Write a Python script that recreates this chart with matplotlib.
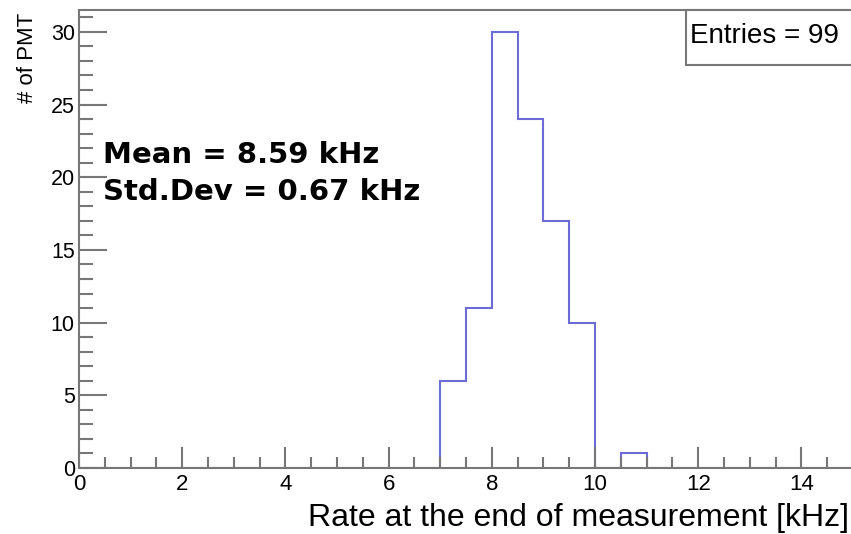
import matplotlib.pyplot as plt
import numpy as np
from matplotlib.patches import Rectangle
from matplotlib.ticker import MultipleLocator

plt.rcParams['font.family'] = ['Liberation Sans', 'DejaVu Sans']

bin_edges = np.arange(0, 15.5, 0.5)
counts = np.zeros(len(bin_edges) - 1)
# bins with entries (lower edge -> count)
filled_low = [7.0, 7.5, 8.0, 8.5, 9.0, 9.5, 10.5]
filled_cnt = [6, 11, 30, 24, 17, 10, 1]
for lo, c in zip(filled_low, filled_cnt):
	counts[int(round(lo / 0.5))] = c

fig = plt.figure(figsize=(8.51, 5.34), dpi=100)
ax = fig.add_axes([79/851, 1 - 468/534, 774/851, 458/534])

ax.stairs(counts, bin_edges, color='#6c6cd6', linewidth=1.5)

ax.set_xlim(0, 15)
ax.set_ylim(0, 31.5)
ax.xaxis.set_major_locator(MultipleLocator(2))
ax.xaxis.set_minor_locator(MultipleLocator(0.5))
ax.yaxis.set_major_locator(MultipleLocator(5))
ax.yaxis.set_minor_locator(MultipleLocator(1))

gray = '#777777'
for s in ax.spines.values():
	s.set_color(gray)
	s.set_linewidth(1.5)
ax.tick_params(axis='both', which='both', direction='in', color=gray, width=1.5)
ax.tick_params(axis='y', which='major', length=20, pad=3, labelsize=15.5)
ax.tick_params(axis='y', which='minor', length=10)
ax.tick_params(axis='x', which='major', length=15, pad=4, labelsize=16)
ax.tick_params(axis='x', which='minor', length=8)

ax.set_xlabel('Rate at the end of measurement [kHz]', fontsize=23, ha='right', va='center')
ax.xaxis.set_label_coords((849 - 79) / 774, -(518 - 468) / 458)
ax.set_ylabel('# of PMT', fontsize=16, ha='right', va='center')
ax.yaxis.set_label_coords(-(79 - 28) / 774, (468 - 13) / 458)

bold_fam = ['DejaVu Sans']
fig.text(103/851, 1 - 155/534, 'Mean = 8.59 kHz', fontsize=21, fontweight='bold', va='center', family=bold_fam)
fig.text(103/851, 1 - 192/534, 'Std.Dev = 0.67 kHz', fontsize=21, fontweight='bold', va='center', family=bold_fam)

fig.patches.append(Rectangle((686/851, 1 - 65/534), 170/851, 55/534, transform=fig.transFigure,
	facecolor='white', edgecolor=gray, linewidth=1.5, zorder=5))
fig.text(764/851, 1 - 36/534, 'Entries = 99', fontsize=20, ha='center', va='center', zorder=6)

fig.savefig('out.png', dpi=100)
